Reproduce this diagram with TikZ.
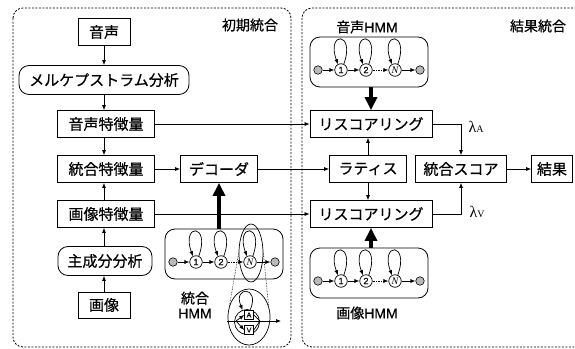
\documentclass[tikz,border=0pt]{standalone}
\usepackage{fontspec}
\setmainfont{Noto Sans CJK JP}[FakeBold=0.6]
\newfontfamily\lsans{Liberation Sans}[FakeBold=0.4]
\newfontfamily\lserif{Liberation Serif}
\usetikzlibrary{arrows.meta,shapes.geometric}

\tikzset{
  box/.style={draw, line width=0.8pt, minimum height=27pt, inner sep=0pt, font=\fontsize{15}{18}\selectfont},
  rbox/.style={box, rounded corners=10pt, minimum height=29pt},
  arr/.style={-{Latex[length=5pt,width=4pt]}, line width=0.7pt},
  bigarr/.style={-{Triangle[length=13pt,width=12pt]}, line width=4pt},
  region/.style={dash pattern=on 2pt off 1.5pt, line width=0.8pt, rounded corners=10pt},
  hmmbox/.style={draw, rounded corners=10pt, minimum width=118pt, minimum height=50pt, line width=0.8pt},
  st/.style={circle, draw, line width=0.7pt, minimum size=12.5pt, inner sep=0pt, fill=white, font=\lsans\fontsize{9}{9}\selectfont},
  gst/.style={circle, draw, line width=0.6pt, minimum size=8.5pt, inner sep=0pt, fill=gray!55},
  lbl/.style={font=\fontsize{14}{16}\selectfont, inner sep=0pt},
}

\newcommand\hmmblock[3]{%
  \node[hmmbox] (#3box) at (#1,#2) {};
  \node[gst] (#3g1) at ({#1-51},{#2+8}) {};
  \node[st] (#3s1) at ({#1-28},{#2+8}) {1};
  \node[st] (#3s2) at ({#1-3},{#2+8}) {2};
  \node[st, font=\lserif\itshape\fontsize{10}{10}\selectfont] (#3sN) at ({#1+26},{#2+8}) {N};
  \node[gst] (#3g2) at ({#1+51},{#2+8}) {};
  \draw[arr] (#3g1) -- (#3s1);
  \draw[arr] (#3s1) -- (#3s2);
  \draw[arr, densely dotted] (#3s2) -- (#3sN);
  \draw[arr] (#3sN) -- (#3g2);
  \foreach \s in {s1,s2,sN} \draw[arr] (#3\s.65) .. controls +(12,-33) and +(-12,-33) .. (#3\s.118);
}

\begin{document}
\begin{tikzpicture}[x=1pt,y=-1pt]
\useasboundingbox (0,0) rectangle (575,348);

% regions
\draw[region] (13,8) rectangle (291,347);
\draw[region] (302,8) rectangle (600,347);
\node[lbl] at (250,25) {初期統合};
\node[lbl] at (538,26) {結果統合};

% left column
\node[box, minimum width=52pt] (voice) at (104,32) {音声};
\node[rbox, minimum width=170pt] (mel) at (104,80) {メルケプストラム分析};
\node[box, minimum width=97pt] (afeat) at (106,124) {音声特徴量};
\node[box, minimum width=97pt] (jfeat) at (106,169) {統合特徴量};
\node[box, minimum width=77pt] (dec) at (219,169) {デコーダ};
\node[box, minimum width=97pt] (vfeat) at (106,214) {画像特徴量};
\node[rbox, minimum width=94pt] (pca) at (105,261) {主成分分析};
\node[box, minimum width=52pt, minimum height=26pt] (img) at (104,305) {画像};

\draw[arr] (voice.south) -- (voice.south |- mel.north);
\draw[arr] (mel.south -| voice) -- (afeat.north -| voice);
\draw[arr] (afeat.south -| voice) -- (jfeat.north -| voice);
\draw[arr] (vfeat.north -| voice) -- (jfeat.south -| voice);
\draw[arr] (pca.north -| voice) -- (vfeat.south -| voice);
\draw[arr] (img.north) -- (img.north |- pca.south);

% right part
\node[box, minimum width=122pt] (rs1) at (371,124) {リスコアリング};
\node[box, minimum width=77pt] (lat) at (368,169) {ラティス};
\node[box, minimum width=91pt] (score) at (461,169) {統合スコア};
\node[box, minimum width=41pt] (res) at (552,169) {結果};
\node[box, minimum width=122pt] (rs2) at (371,214) {リスコアリング};

\draw[arr] (afeat.east) -- (afeat.east -| rs1.west);
\draw[arr] (jfeat.east) -- (dec.west);
\draw[arr] (dec.east) -- (lat.west);
\draw[arr] (vfeat.east) -- (vfeat.east -| rs2.west);
\draw[arr] (score.east) -- (res.west);
\draw[arr] (lat.north) -- (lat.north |- rs1.south);
\draw[arr] (lat.south) -- (lat.south |- rs2.north);
\draw[arr] (rs1.east) -| (score.north);
\draw[arr] (rs2.east) -| (score.south);

\node[inner sep=0pt] (lamA) at (476,127) {\lserif\fontsize{16}{16}\selectfont λ\fontsize{10}{10}\selectfont A};
\node[inner sep=0pt] (lamV) at (477,212) {\lserif\fontsize{16}{16}\selectfont λ\fontsize{10}{10}\selectfont V};

% HMMs
\hmmblock{369}{62}{a}
\hmmblock{369}{273}{v}
\hmmblock{224}{254}{j}

\node[lbl] at (367,27) {音声\lsans HMM};
\node[lbl] at (367,313) {画像\lsans HMM};
\node[lbl, align=center] at (195,305) {統合\\[-1pt]\lsans HMM};

\draw[bigarr] (abox.south -| rs1) -- (rs1.north);
\draw[bigarr] (vbox.north -| rs2) -- (rs2.south);
\draw[bigarr] (jbox.north -| dec) -- (dec.south);

% zoom of state N
\node[ellipse, draw, line width=0.7pt, minimum width=24pt, minimum height=58pt] (nell) at (251,253) {};
\node[ellipse, draw, line width=0.7pt, minimum width=42pt, minimum height=56pt] (big) at (249,317) {};
\node[circle, draw, line width=0.7pt, minimum size=25pt, inner sep=0pt] (inner) at (247,322) {};
\draw[densely dotted, line width=0.6pt] (nell.west) -- (big.150);
\draw[densely dotted, line width=0.6pt] (nell.east) -- (big.30);
\draw[arr] (inner.75) .. controls +(10,-24) and +(-10,-24) .. (inner.110);
\node[draw, line width=0.6pt, minimum size=9pt, inner sep=0pt, fill=white, font=\lsans\fontsize{7}{7}\selectfont] (bA) at (249,315) {A};
\node[draw, line width=0.6pt, minimum size=9pt, inner sep=0pt, fill=white, font=\lsans\fontsize{7}{7}\selectfont] (bV) at (249,330) {V};
\coordinate (hl) at (227,321);
\coordinate (hr) at (281,321);
\coordinate (jl) at (236,321);
\coordinate (jr) at (260,321);
\draw[arr] (hl) -- (hr);
\draw[arr] (jl) -- (bA.west);
\draw[arr] (jl) -- (bV.west);
\draw[line width=0.7pt] (bA.east) -- (jr);
\draw[line width=0.7pt] (bV.east) -- (jr);
\end{tikzpicture}
\end{document}
